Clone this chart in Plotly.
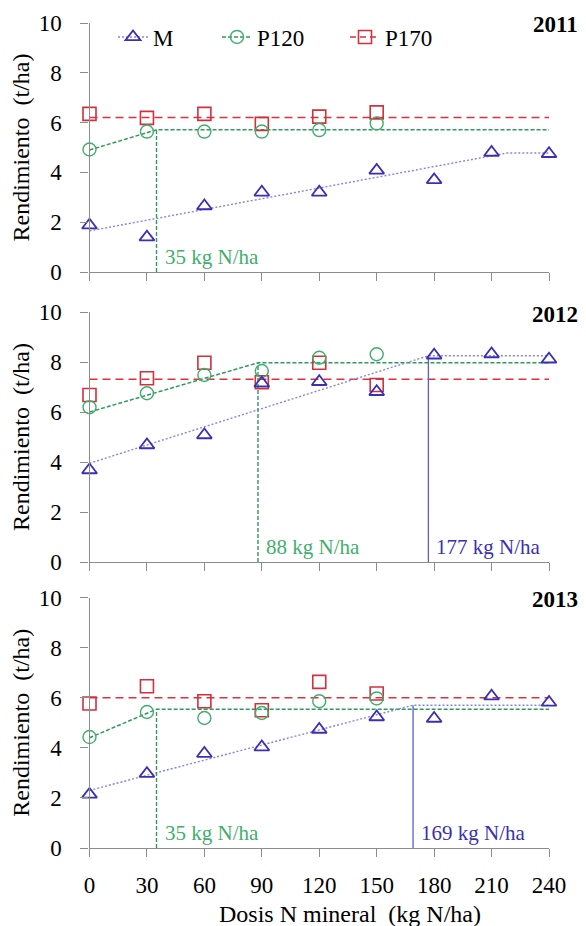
import plotly.graph_objects as go

# ---------------- data ----------------
dose = [0, 30, 60, 90, 120, 150, 180, 210, 240]
dose_p = [0, 30, 60, 90, 120, 150]
y_ticks = [0, 2, 4, 6, 8, 10]
years = ["2011", "2012", "2013"]

M_2011 = [1.88, 1.40, 2.65, 3.20, 3.20, 4.08, 3.70, 4.80, 4.75]
P120_2011 = [4.92, 5.64, 5.64, 5.64, 5.70, 5.97]
P170_2011 = [6.35, 6.19, 6.35, 5.95, 6.24, 6.41]

M_2012 = [3.68, 4.68, 5.08, 7.15, 7.21, 6.81, 8.27, 8.32, 8.11]
P120_2012 = [6.19, 6.75, 7.48, 7.64, 8.17, 8.31]
P170_2012 = [6.68, 7.35, 7.97, 7.19, 7.97, 7.08]

M_2013 = [2.14, 2.97, 3.77, 4.03, 4.73, 5.23, 5.17, 6.06, 5.81]
P120_2013 = [4.43, 5.43, 5.19, 5.39, 5.86, 5.97]
P170_2013 = [5.77, 6.46, 5.86, 5.50, 6.63, 6.17]

# fitted models (linear-plateau / constant)
fitM_x_2011 = [0, 218, 240]
fitM_y_2011 = [1.65, 4.78, 4.78]
fitP120_x_2011 = [0, 35, 240]
fitP120_y_2011 = [4.90, 5.71, 5.71]
fitP170_2011 = 6.20

fitM_x_2012 = [0, 177, 240]
fitM_y_2012 = [3.95, 8.25, 8.25]
fitP120_x_2012 = [0, 88, 240]
fitP120_y_2012 = [6.00, 7.97, 7.97]
fitP170_2012 = 7.31

fitM_x_2013 = [0, 169, 240]
fitM_y_2013 = [2.30, 5.70, 5.70]
fitP120_x_2013 = [0, 35, 240]
fitP120_y_2013 = [4.40, 5.54, 5.54]
fitP170_2013 = 6.00

# breakpoints shown with vertical lines: (year, series, dose, label)
breaks = [
    ("2011", "P120", 35, "35 kg N/ha"),
    ("2012", "P120", 88, "88 kg N/ha"),
    ("2012", "M", 177, "177 kg N/ha"),
    ("2013", "P120", 35, "35 kg N/ha"),
    ("2013", "M", 169, "169 kg N/ha"),
]

# ---------------- styling ----------------
SERIF = "Liberation Serif, Times New Roman, serif"
C_M_MK = "#3b2fb2"
C_M_LN = "#8585e0"
C_M_VL = "#5c5cd0"
C_G_MK = "#3fae6e"
C_G_LN = "#2f9a5c"
C_R_MK = "#d2303c"
C_R_LN = "#e0303a"
AX = "#8c8c8c"

data = {
    "2011": dict(M=M_2011, P120=P120_2011, P170=P170_2011,
                 fMx=fitM_x_2011, fMy=fitM_y_2011,
                 fGx=fitP120_x_2011, fGy=fitP120_y_2011, fR=fitP170_2011),
    "2012": dict(M=M_2012, P120=P120_2012, P170=P170_2012,
                 fMx=fitM_x_2012, fMy=fitM_y_2012,
                 fGx=fitP120_x_2012, fGy=fitP120_y_2012, fR=fitP170_2012),
    "2013": dict(M=M_2013, P120=P120_2013, P170=P170_2013,
                 fMx=fitM_x_2013, fMy=fitM_y_2013,
                 fGx=fitP120_x_2013, fGy=fitP120_y_2013, fR=fitP170_2013),
}

W, H = 586, 926
x_dom = [89.5 / W, 549 / W]
y_doms = [
    [1 - 272 / H, 1 - 23 / H],
    [1 - 562 / H, 1 - 312 / H],
    [1 - 848 / H, 1 - 597.5 / H],
]

fig = go.Figure()

for i, yr in enumerate(years):
    d = data[yr]
    xa = "x" if i == 0 else f"x{i+1}"
    ya = "y" if i == 0 else f"y{i+1}"
    fig.add_trace(go.Scatter(x=[dose[0], dose[-1]], y=[d["fR"], d["fR"]], mode="lines",
                             line=dict(color=C_R_LN, width=1.5, dash="8px,5px"),
                             xaxis=xa, yaxis=ya, showlegend=False, hoverinfo="skip"))
    fig.add_trace(go.Scatter(x=d["fGx"], y=d["fGy"], mode="lines",
                             line=dict(color=C_G_LN, width=1.5, dash="4px,2px"),
                             xaxis=xa, yaxis=ya, showlegend=False, hoverinfo="skip"))
    fig.add_trace(go.Scatter(x=d["fMx"], y=d["fMy"], mode="lines",
                             line=dict(color=C_M_LN, width=1.4, dash="2px,2px"),
                             xaxis=xa, yaxis=ya, showlegend=False, hoverinfo="skip"))
    for (byr, ser, bx, lab) in breaks:
        if byr != yr:
            continue
        if ser == "P120":
            top = d["fGy"][1]
            ln = dict(color=C_G_LN, width=1.4, dash="4px,2px")
        else:
            top = d["fMy"][1]
            ln = dict(color=C_M_VL, width=1.3)
        fig.add_trace(go.Scatter(x=[bx, bx], y=[0, top], mode="lines", line=ln,
                                 xaxis=xa, yaxis=ya, showlegend=False, hoverinfo="skip"))
    fig.add_trace(go.Scatter(x=dose_p, y=d["P170"], mode="markers", cliponaxis=False,
                             marker=dict(symbol="square-open", size=13, color=C_R_MK,
                                         line=dict(width=1.6, color=C_R_MK)),
                             xaxis=xa, yaxis=ya, showlegend=False))
    fig.add_trace(go.Scatter(x=dose_p, y=d["P120"], mode="markers", cliponaxis=False,
                             marker=dict(symbol="circle-open", size=13, color=C_G_MK,
                                         line=dict(width=1.4, color=C_G_MK)),
                             xaxis=xa, yaxis=ya, showlegend=False))
    fig.add_trace(go.Scatter(x=dose, y=d["M"], mode="markers", cliponaxis=False,
                             marker=dict(symbol="triangle-up-open", size=13, color=C_M_MK,
                                         line=dict(width=1.8, color=C_M_MK)),
                             xaxis=xa, yaxis=ya, showlegend=False))

# legend-only traces
fig.add_trace(go.Scatter(x=[None], y=[None], mode="lines+markers", name="M",
                         line=dict(color=C_M_LN, width=1.4, dash="2px,2px"),
                         marker=dict(symbol="triangle-up-open", size=13, color=C_M_MK,
                                     line=dict(width=1.8, color=C_M_MK)),
                         legend="legend"))
fig.add_trace(go.Scatter(x=[None], y=[None], mode="lines+markers", name="P120",
                         line=dict(color=C_G_LN, width=1.5, dash="4px,2px"),
                         marker=dict(symbol="circle-open", size=13, color=C_G_MK,
                                     line=dict(width=1.4, color=C_G_MK)),
                         legend="legend2"))
fig.add_trace(go.Scatter(x=[None], y=[None], mode="lines+markers", name="P170",
                         line=dict(color=C_R_LN, width=1.5, dash="6px,4px"),
                         marker=dict(symbol="square-open", size=13, color=C_R_MK,
                                     line=dict(width=1.6, color=C_R_MK)),
                         legend="legend3"))

leg_common = dict(orientation="h", yanchor="middle", y=1 - 37 / H, xanchor="left",
                  bgcolor="rgba(0,0,0,0)", borderwidth=0,
                  font=dict(family=SERIF, size=23, color="black"))

layout = dict(
    width=W, height=H, autosize=False,
    margin=dict(l=0, r=0, t=0, b=0),
    paper_bgcolor="white", plot_bgcolor="white",
    legend=dict(x=113 / W, **leg_common),
    legend2=dict(x=217 / W, **leg_common),
    legend3=dict(x=345 / W, **leg_common),
    annotations=[],
)

for i in range(3):
    xk = "xaxis" if i == 0 else f"xaxis{i+1}"
    yk = "yaxis" if i == 0 else f"yaxis{i+1}"
    ya = "y" if i == 0 else f"y{i+1}"
    xa = "x" if i == 0 else f"x{i+1}"
    layout[xk] = dict(domain=x_dom, anchor=ya, range=[dose[0], dose[-1]], tickvals=dose,
                      showline=True, linecolor=AX, linewidth=1.3, ticks="outside",
                      ticklen=8, tickwidth=1.3, tickcolor=AX, showgrid=False, zeroline=False,
                      showticklabels=(i == 2), ticklabelstandoff=8,
                      tickfont=dict(family=SERIF, size=23, color="black"), automargin=False)
    layout[yk] = dict(domain=y_doms[i], anchor=xa, range=[0, 10], tickvals=y_ticks,
                      showline=True, linecolor=AX, linewidth=1.3, ticks="outside",
                      ticklen=8, tickwidth=1.3, tickcolor=AX, showgrid=False, zeroline=False,
                      ticklabelstandoff=14,
                      tickfont=dict(family=SERIF, size=23, color="black"), automargin=False)
    layout["annotations"].append(dict(
        xref="paper", yref="paper", x=580 / W, y=y_doms[i][1] - 2 / H,
        xanchor="right", yanchor="middle", showarrow=False, text="<b>%s</b>" % years[i],
        font=dict(family=SERIF, size=23, color="black")))
    layout["annotations"].append(dict(
        xref="paper", yref="paper", x=21 / W, y=(y_doms[i][0] + y_doms[i][1]) / 2,
        xanchor="center", yanchor="middle", showarrow=False, textangle=-90,
        text="Rendimiento  (t/ha)", font=dict(family=SERIF, size=24, color="black")))

for (byr, ser, bx, lab) in breaks:
    i = years.index(byr)
    xa = "x" if i == 0 else f"x{i+1}"
    ya = "y" if i == 0 else f"y{i+1}"
    layout["annotations"].append(dict(
        xref=xa, yref=ya, x=bx, y=0.6, xanchor="left", yanchor="middle", xshift=6,
        showarrow=False, text=lab,
        font=dict(family=SERIF, size=21, color=(C_G_MK if ser == "P120" else C_M_MK))))

layout["annotations"].append(dict(
    xref="paper", yref="paper", x=350 / W, y=1 - 914 / H, xanchor="center", yanchor="middle",
    showarrow=False, text="Dosis N mineral  (kg N/ha)",
    font=dict(family=SERIF, size=24, color="black")))

fig.update_layout(**layout)
fig.write_html(
    "out.html",
    config={"displayModeBar": False},
    post_script="document.body.style.margin='0';document.body.style.overflow='hidden';",
)
